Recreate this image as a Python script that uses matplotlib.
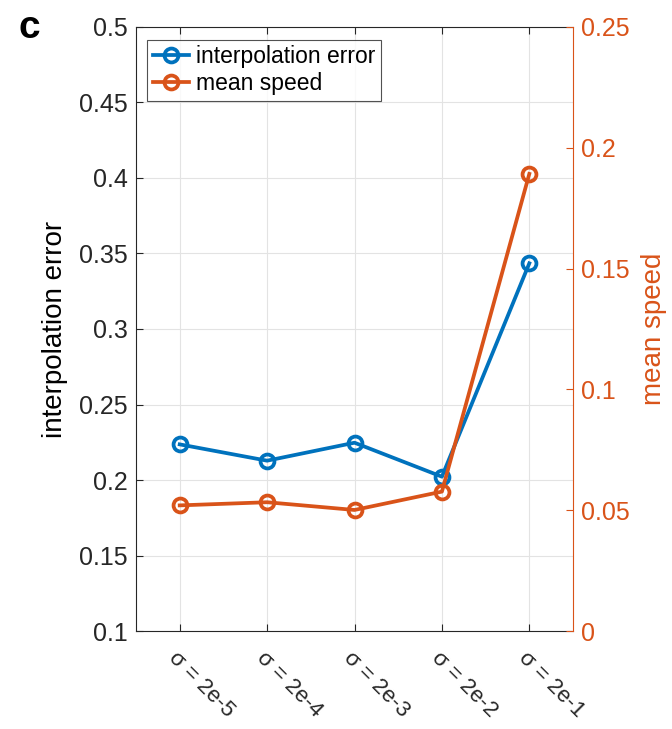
import matplotlib
matplotlib.use('Agg')
import matplotlib.pyplot as plt

plt.rcParams['font.family'] = ['Liberation Sans', 'DejaVu Sans']

# sigma settings and the two measured series
sigma_labels = ['σ = 2e-5', 'σ = 2e-4', 'σ = 2e-3', 'σ = 2e-2', 'σ = 2e-1']
interp_error = [0.2236, 0.2128, 0.2247, 0.2022, 0.3435]
mean_speed = [0.0520, 0.0533, 0.0501, 0.0577, 0.1892]

left_ticks = [0.1, 0.15, 0.2, 0.25, 0.3, 0.35, 0.4, 0.45, 0.5]
left_ticklabels = ['0.1', '0.15', '0.2', '0.25', '0.3', '0.35', '0.4', '0.45', '0.5']
right_ticks = [0, 0.05, 0.1, 0.15, 0.2, 0.25]
right_ticklabels = ['0', '0.05', '0.1', '0.15', '0.2', '0.25']

BLUE = '#0072BD'
ORANGE = '#D95319'
DARK = '#262626'

fig = plt.figure(figsize=(6.72, 7.29), dpi=100)
ax = fig.add_axes([0.2024, 0.1344, 0.6503, 0.8286])
ax2 = ax.twinx()

xs = list(range(1, len(sigma_labels) + 1))
style = dict(marker='o', markersize=10, markerfacecolor='none',
             markeredgewidth=2.7, linewidth=2.7)
l1, = ax.plot(xs, interp_error, color=BLUE, label='interpolation error', **style)
l2, = ax2.plot(xs, mean_speed, color=ORANGE, label='mean speed', **style)

ax.set_xlim(0.5, 5.5)
ax.set_ylim(0.1, 0.5)
ax.set_yticks(left_ticks)
ax.set_yticklabels(left_ticklabels)
ax.set_xticks(xs)
ax.set_xticklabels(sigma_labels, rotation=-45, ha='left', va='top',
                   rotation_mode='anchor', fontsize=16, color=DARK)
ax.tick_params(axis='x', pad=12)
ax.tick_params(axis='y', labelsize=18, colors=DARK, direction='in', length=5, pad=6)
ax.tick_params(axis='x', direction='in', length=5, top=True, colors=DARK)
ax.set_ylabel('interpolation error', fontsize=20, color='black', labelpad=8)
ax.grid(True, color='#e3e3e3', linewidth=0.8)
ax.set_axisbelow(True)

ax2.set_ylim(0, 0.25)
ax2.set_yticks(right_ticks)
ax2.set_yticklabels(right_ticklabels)
ax2.tick_params(axis='y', labelsize=18, colors=ORANGE, direction='in', length=5, pad=6)
ax2.set_ylabel('mean speed', fontsize=20, color=ORANGE, labelpad=8)

for sp in ['left', 'top', 'bottom']:
    ax.spines[sp].set_color(DARK)
    ax.spines[sp].set_linewidth(0.8)
ax2.spines['right'].set_color(ORANGE)
ax2.spines['right'].set_linewidth(0.8)
ax.spines['right'].set_visible(False)
for sp in ['left', 'top', 'bottom']:
    ax2.spines[sp].set_visible(False)

leg = ax.legend(handles=[l1, l2], loc='upper left', fontsize=16.5,
                frameon=True, fancybox=False, handlelength=1.6,
                handletextpad=0.3, borderpad=0.25, labelspacing=0.15,
                borderaxespad=0, bbox_to_anchor=(0.025, 0.979))
leg.get_frame().set_edgecolor(DARK)
leg.get_frame().set_linewidth(0.8)

fig.text(0.044, 0.962, 'c', fontsize=28, fontweight='bold', ha='center', va='center')

fig.savefig('out.png', dpi=100)
